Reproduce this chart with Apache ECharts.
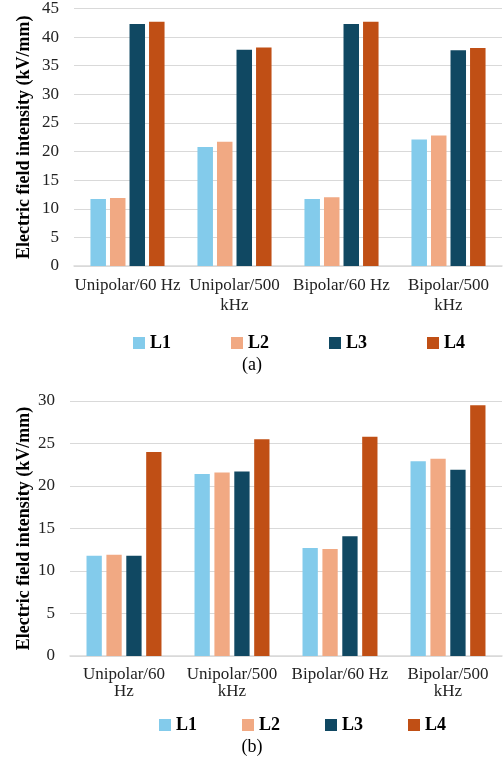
<!DOCTYPE html>
<html>
<head>
<meta charset="utf-8">
<script src="https://cdn.jsdelivr.net/npm/echarts@6/dist/echarts.min.js"></script>
<style>
  html, body { margin: 0; padding: 0; background: #fff; }
  #chart { width: 504px; height: 761px; }
</style>
</head>
<body>
<div id="chart"></div>
<script>
// category labels (wrapping differs between the two panels)
var categoriesA = ['Unipolar/60 Hz', 'Unipolar/500\nkHz', 'Bipolar/60 Hz', 'Bipolar/500\nkHz']
var categoriesB = ['Unipolar/60\nHz', 'Unipolar/500\nkHz', 'Bipolar/60 Hz', 'Bipolar/500\nkHz']
var seriesNames = ['L1', 'L2', 'L3', 'L4']
var colors = ['#83CBEB', '#F1A983', '#104862', '#C04F15']

// panel (a) values, kV/mm
var a_L1 = [11.7, 20.8, 11.7, 22.1]
var a_L2 = [11.9, 21.7, 12.0, 22.8]
var a_L3 = [42.3, 37.8, 42.3, 37.7]
var a_L4 = [42.7, 38.2, 42.7, 38.1]

// panel (b) values, kV/mm
var b_L1 = [11.8, 21.4, 12.7, 22.9]
var b_L2 = [11.9, 21.6, 12.6, 23.2]
var b_L3 = [11.8, 21.7, 14.1, 21.9]
var b_L4 = [24.0, 25.5, 25.8, 29.5]

var ticksA = { min: 0, max: 45, interval: 5 }
var ticksB = { min: 0, max: 30, interval: 5 }

var font = 'Liberation Serif'
var yName = 'Electric field intensity (kV/mm)'

function makeYAxis(gridIndex, ticks, gap) {
    return {
        type: 'value',
        gridIndex: gridIndex,
        min: ticks.min,
        max: ticks.max,
        interval: ticks.interval,
        name: yName,
        nameLocation: 'middle',
        nameGap: gap,
        nameMoveOverlap: false,
        nameTextStyle: { fontFamily: font, fontWeight: 'bold', fontSize: 18, color: '#000' },
        axisLine: { show: false },
        axisTick: { show: false },
        axisLabel: { fontFamily: font, fontSize: 17, color: '#222', margin: 15 },
        splitLine: { lineStyle: { color: '#d9d9d9', width: 1 } }
    }
}

function makeXAxis(gridIndex, cats, lh) {
    return {
        type: 'category',
        gridIndex: gridIndex,
        data: cats,
        axisLine: { lineStyle: { color: '#d9d9d9', width: 1.5 } },
        axisTick: { show: false },
        axisLabel: { fontFamily: font, fontSize: 17, color: '#222', margin: 10, lineHeight: lh, interval: 0 }
    }
}

var groupA = [a_L1, a_L2, a_L3, a_L4]
var groupB = [b_L1, b_L2, b_L3, b_L4]
var series = []
for (let i = 0; i < 4; ++i) {
    series.push({
        name: seriesNames[i],
        type: 'bar',
        xAxisIndex: 0,
        yAxisIndex: 0,
        data: groupA[i],
        barWidth: 15.5,
        barGap: '26%',
        itemStyle: { color: colors[i] }
    })
}
for (let i = 0; i < 4; ++i) {
    series.push({
        name: seriesNames[i],
        type: 'bar',
        xAxisIndex: 1,
        yAxisIndex: 1,
        data: groupB[i],
        barWidth: 15.3,
        barGap: '30%',
        itemStyle: { color: colors[i] }
    })
}

var legendText = { fontFamily: font, fontWeight: 'bold', fontSize: 18, color: '#000' }

var chart = echarts.init(document.getElementById('chart'))
chart.setOption({
    animation: false,
    color: colors,
    grid: [
        { left: 74, right: 2, top: 8, height: 258 },
        { left: 70, right: 2, top: 401, height: 255 }
    ],
    xAxis: [makeXAxis(0, categoriesA, 20), makeXAxis(1, categoriesB, 17)],
    yAxis: [makeYAxis(0, ticksA, 41), makeYAxis(1, ticksB, 37)],
    legend: [
        {
            data: seriesNames,
            left: 128,
            top: 329,
            itemWidth: 12,
            itemHeight: 12,
            itemGap: 60,
            icon: 'rect',
            textStyle: legendText
        },
        {
            data: seriesNames,
            left: 154,
            top: 711,
            itemWidth: 12,
            itemHeight: 12,
            itemGap: 45,
            icon: 'rect',
            textStyle: legendText
        }
    ],
    title: [
        { text: '(a)', left: 'center', top: 351, textStyle: { fontFamily: font, fontSize: 18, fontWeight: 'normal', color: '#000' } },
        { text: '(b)', left: 'center', top: 733, textStyle: { fontFamily: font, fontSize: 18, fontWeight: 'normal', color: '#000' } }
    ],
    series: series
})
</script>
</body>
</html>
